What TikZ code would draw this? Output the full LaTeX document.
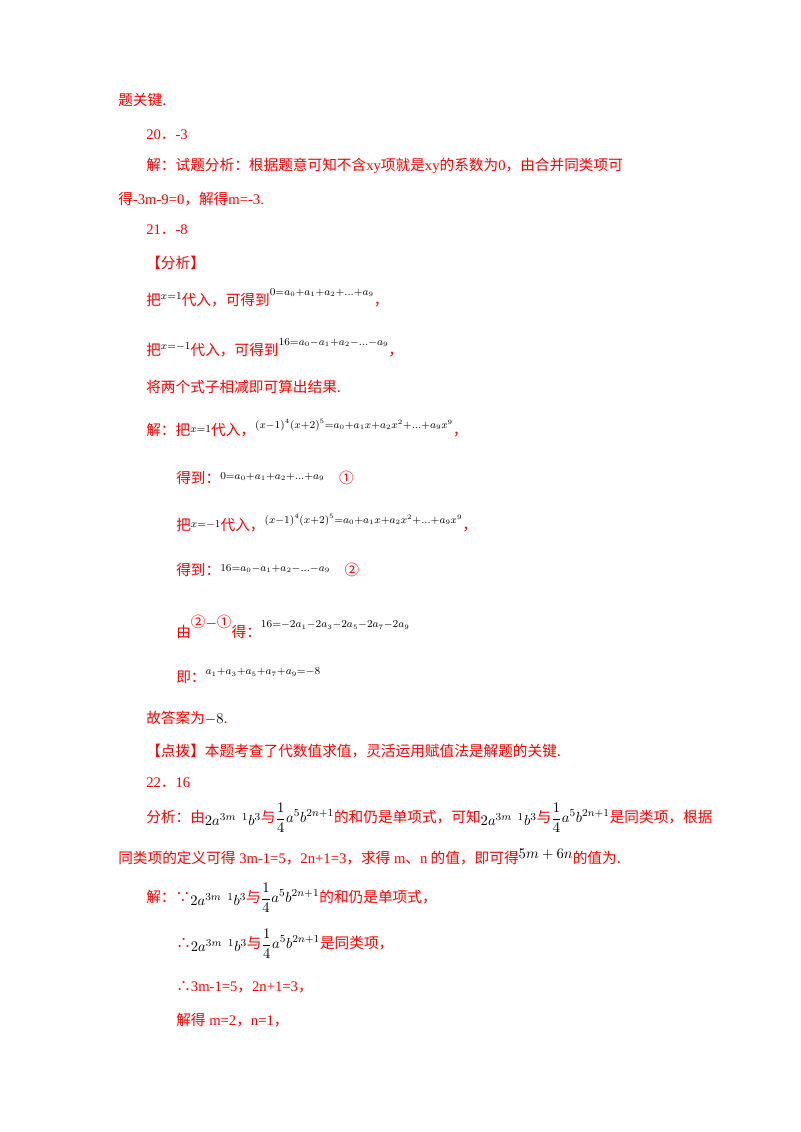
\documentclass[tikz,border=0pt]{standalone}
\usepackage{fontspec}
\setmainfont{Liberation Serif}
\newfontfamily\cjk{Noto Sans CJK SC}
\begin{document}
\begin{tikzpicture}[x=0.75pt,y=-0.75pt,
  t/.style={anchor=west,inner sep=0pt,text=red,font=\fontsize{11}{13}\selectfont}]
\useasboundingbox (0,0) rectangle (800,1132);
\newcommand{\m}[1]{{\color{black}$#1$}}
\newcommand{\mr}[2]{\raisebox{#1}{\color{black}$#2$}}
\newcommand{\fr}{\raisebox{-2pt}{\color{black}$2a^{3m\;\;1}b^3$}}
\newcommand{\fq}{{\color{black}$\displaystyle\frac14a^5b^{2n+1}$}}
\node[t] (l1) at (118,100) {\cjk 题关键.};
\node[t] (l2) at (146,135) {20\cjk ．\rmfamily -3};
\node[t] (l3) at (146,166) {\cjk 解：试题分析：根据题意可知不含\rmfamily xy\cjk 项就是\rmfamily xy\cjk 的系数为\rmfamily 0\cjk ，由合并同类项可};
\node[t] (l4) at (118,199) {\cjk 得\rmfamily -3m-9=0\cjk ，解得\rmfamily m=-3.};
\node[t] (l5) at (146,230) {21\cjk ．\rmfamily -8};
\node[t] (l6) at (146,263) {\cjk 【分析】};
\node[t] (l7) at (146,298) {\cjk 把\mr{5pt}{\scriptstyle x=1}代入，可得到\mr{8pt}{\scriptstyle 0=a_0+a_1+a_2+\ldots+a_9}，};
\node[t] (l8) at (146,348) {\cjk 把\mr{5pt}{\scriptstyle x=-1}代入，可得到\mr{8pt}{\scriptstyle 16=a_0-a_1+a_2-\ldots-a_9}，};
\node[t] (l9) at (146,387) {\cjk 将两个式子相减即可算出结果.};
\node[t] (l10) at (146,428) {\cjk 解：把\mr{2pt}{\scriptstyle x=1}代入，\mr{5pt}{\scriptstyle \left(x-1\right)^4\left(x+2\right)^5=a_0+a_1x+a_2x^2+\ldots+a_9x^9}，};
\node[t] (l11) at (176,478) {\cjk 得到：\mr{3pt}{\scriptstyle 0=a_0+a_1+a_2+\ldots+a_9}\quad ①};
\node[t] (l12) at (176,523) {\cjk 把\mr{2pt}{\scriptstyle x=-1}代入，\mr{5pt}{\scriptstyle \left(x-1\right)^4\left(x+2\right)^5=a_0+a_1x+a_2x^2+\ldots+a_9x^9}，};
\node[t] (l13) at (176,570) {\cjk 得到：\mr{3pt}{\scriptstyle 16=a_0-a_1+a_2-\ldots-a_9}\quad ②};
\node[t] (l14) at (176,627) {\cjk 由\raisebox{7pt}{②\m{-}①}得：\mr{7pt}{\scriptstyle 16=-2a_1-2a_3-2a_5-2a_7-2a_9}};
\node[t] (l15) at (176,676) {\cjk 即：\mr{6pt}{\scriptstyle a_1+a_3+a_5+a_7+a_9=-8}};
\node[t] (l16) at (146,718) {\cjk 故答案为\m{-8}.};
\node[t] (l17) at (146,751) {\cjk 【点拨】本题考查了代数值求值，灵活运用赋值法是解题的关键.};
\node[t] (l18) at (146,783) {22\cjk ．\rmfamily 16};
\node[t] (l19) at (146,818) {\cjk 分析：由\fr 与\fq 的和仍是单项式，可知\fr 与\fq 是同类项，根据};
\node[t] (l20) at (118,857) {\cjk 同类项的定义可得\rmfamily\ 3m-1=5\cjk ，\rmfamily 2n+1=3\cjk ，求得\rmfamily\ m\cjk 、\rmfamily n\cjk\ 的值，即可得\mr{4pt}{5m+6n}的值为.};
\node[t] (l21) at (146,898) {\cjk 解：∵\fr 与\fq 的和仍是单项式，};
\node[t] (l22) at (176,944) {\cjk ∴\fr 与\fq 是同类项，};
\node[t] (l23) at (176,987) {\cjk ∴\rmfamily 3m-1=5\cjk ，\rmfamily 2n+1=3\cjk ，};
\node[t] (l24) at (176,1020) {\cjk 解得\rmfamily\ m=2\cjk ，\rmfamily n=1\cjk ，};
\end{tikzpicture}
\end{document}
